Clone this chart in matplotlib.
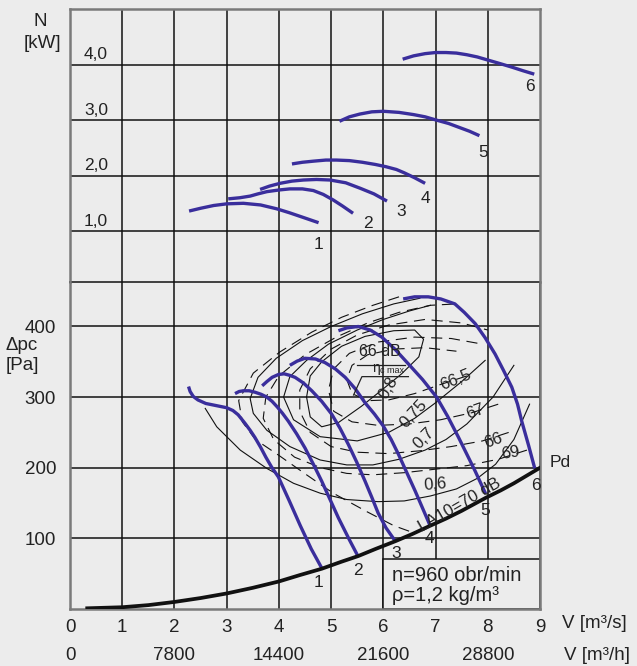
import matplotlib.pyplot as plt
from matplotlib.patches import Rectangle

plt.rcParams['font.family'] = ['Liberation Sans', 'DejaVu Sans']

BG = '#ececec'
BLUE = '#3a2e9c'
FRAME = '#7a7a7a'
TXT = '#222222'

# ---- dane ----
# krzywe mocy N [kW] dla nastaw 1..6
pow_v = [
    [2.28, 2.5, 2.75, 3.0, 3.32, 3.65, 3.96, 4.2, 4.45, 4.76],
    [3.03, 3.25, 3.45, 3.6, 3.77, 4.0, 4.21, 4.45, 4.66, 4.85, 5.04, 5.22, 5.42],
    [3.64, 3.82, 4.02, 4.25, 4.47, 4.72, 4.98, 5.28, 5.56, 5.82, 6.07],
    [4.25, 4.45, 4.66, 4.9, 5.1, 5.35, 5.6, 5.85, 6.05, 6.25, 6.4, 6.6, 6.8],
    [5.16, 5.35, 5.55, 5.78, 6.0, 6.3, 6.58, 6.8, 7.02, 7.25, 7.45, 7.65, 7.84],
    [6.37, 6.58, 6.8, 7.0, 7.2, 7.4, 7.6, 7.8, 7.98, 8.2, 8.45, 8.68, 8.89],
]
pow_n = [
    [1.36, 1.41, 1.46, 1.49, 1.50, 1.47, 1.40, 1.33, 1.25, 1.15],
    [1.58, 1.60, 1.63, 1.67, 1.71, 1.74, 1.76, 1.76, 1.73, 1.66, 1.56, 1.45, 1.32],
    [1.75, 1.81, 1.86, 1.90, 1.92, 1.93, 1.92, 1.87, 1.77, 1.67, 1.54],
    [2.21, 2.24, 2.26, 2.28, 2.28, 2.27, 2.24, 2.20, 2.16, 2.11, 2.05, 1.96, 1.86],
    [2.98, 3.06, 3.11, 3.15, 3.16, 3.14, 3.10, 3.06, 3.00, 2.94, 2.87, 2.80, 2.72],
    [4.10, 4.16, 4.20, 4.22, 4.22, 4.21, 4.18, 4.14, 4.09, 4.03, 3.96, 3.89, 3.83],
]
pow_lab_v = [4.76, 5.7, 6.34, 6.81, 7.92, 8.8]
pow_lab_n = [0.75, 1.13, 1.35, 1.58, 2.42, 3.60]

# charakterystyki spietrzenia dpc [Pa]
pr_v = [
    [2.27, 2.3, 2.36, 2.45, 2.6, 2.8, 3.0, 3.12, 3.22, 3.35, 3.45, 3.54, 3.65, 3.75, 3.86, 3.99, 4.2, 4.41, 4.62, 4.82],
    [3.16, 3.24, 3.32, 3.43, 3.54, 3.66, 3.77, 3.87, 3.97, 4.07, 4.18, 4.34, 4.5, 4.66, 4.82, 4.98, 5.14, 5.35, 5.52],
    [3.68, 3.77, 3.87, 3.99, 4.1, 4.2, 4.31, 4.47, 4.63, 4.82, 5.01, 5.17, 5.33, 5.49, 5.65, 5.78, 5.9, 6.05, 6.23],
    [4.21, 4.35, 4.5, 4.7, 4.88, 5.08, 5.27, 5.46, 5.65, 5.83, 6.0, 6.15, 6.29, 6.45, 6.61, 6.75, 6.89],
    [5.14, 5.3, 5.52, 5.75, 5.97, 6.22, 6.48, 6.75, 7.02, 7.23, 7.44, 7.6, 7.76, 7.96],
    [6.38, 6.6, 6.86, 7.1, 7.37, 7.55, 7.76, 7.95, 8.14, 8.3, 8.46, 8.57, 8.65, 8.78, 8.9],
]
pr_p = [
    [315, 308, 301, 296, 291, 288, 285, 281, 275, 263, 253, 243, 229, 215, 201, 187, 153, 118, 85, 58],
    [305, 308, 309, 309, 307, 304, 300, 294, 286, 277, 266, 248, 228, 205, 181, 155, 129, 98, 74],
    [316, 322, 328, 332, 333, 331, 328, 320, 309, 294, 276, 256, 233, 208, 181, 158, 136, 115, 96],
    [345, 351, 355, 354, 349, 340, 328, 312, 292, 276, 259, 240, 219, 193, 167, 143, 119],
    [394, 398, 400, 395, 385, 368, 347, 325, 300, 273, 243, 219, 195, 163],
    [439, 442, 442, 439, 432, 420, 404, 384, 361, 338, 314, 290, 266, 232, 199],
]
end_lab_v = [4.75, 5.52, 6.25, 6.88, 7.95, 8.92]
end_lab_p = [37, 55, 78, 100, 140, 175]

# charakterystyka sieci (Pd)
sys_v = [0.33, 1, 1.5, 2, 2.5, 3, 3.5, 4, 4.4, 4.82, 5.2, 5.52, 5.85, 6.23, 6.55, 6.9, 7.2, 7.5, 7.95, 8.25, 8.5, 8.75, 9.0]
sys_p = [1, 2.5, 5.5, 10, 15.5, 22, 30, 39, 48, 57, 67, 75, 85, 96, 106, 118, 128, 139, 157, 168, 178, 189, 200]

# izolinie sprawnosci (ciagle)
eta_v = [
    [4.53, 4.6, 4.82, 5.2, 5.65, 6.2, 6.6, 6.77, 6.68, 6.35, 5.97, 5.58, 5.14, 4.82, 4.6, 4.53],
    [7.95, 7.5, 7.0, 6.6, 6.1, 5.5, 4.79, 4.28, 4.09, 4.21, 4.53, 4.95, 5.5, 6.0, 6.5, 6.9],
    [8.5, 8.1, 7.6, 7.2, 6.8, 6.3, 5.8, 5.3, 4.79, 4.21, 3.77, 3.51, 3.45, 3.6, 3.95, 4.45, 5.0, 5.6, 6.2, 6.7],
    [8.8, 8.5, 8.15, 7.8, 7.4, 6.9, 6.4, 5.9, 5.3, 4.79, 4.28, 3.77, 3.26, 2.81, 2.59],
]
eta_p = [
    [300, 330, 350, 372, 386, 394, 395, 382, 357, 333, 310, 287, 264, 258, 272, 300],
    [352, 322, 292, 270, 250, 238, 244, 268, 300, 329, 352, 375, 395, 410, 422, 430],
    [345, 300, 262, 240, 225, 212, 204, 204, 211, 230, 253, 277, 298, 328, 355, 380, 400, 418, 432, 440],
    [290, 240, 205, 185, 170, 160, 153, 152, 155, 164, 178, 199, 225, 258, 284],
]

# izolinie halasu (przerywane)
noise_v = [
    [6.3, 5.8, 5.2, 4.63, 4.02, 3.51, 3.23, 3.3, 3.55, 3.99, 4.53, 5.04, 5.68, 6.2, 6.5],
    [8.75, 8.2, 7.6, 7.0, 6.4, 5.8, 5.3, 4.8, 4.3, 3.9, 3.7, 3.75, 4.0, 4.5, 5.1, 5.7, 6.3, 6.9, 7.4],
    [8.4, 7.9, 7.3, 6.7, 6.1, 5.5, 5.0, 4.6, 4.4, 4.4, 4.6, 5.0, 5.5, 6.1, 6.8, 7.5, 8.0],
    [8.2, 7.7, 7.1, 6.5, 5.9, 5.4, 5.05, 4.95, 5.05, 5.35, 5.9, 6.6, 7.3, 7.9],
    [7.6, 7.1, 6.6, 6.1, 5.7, 5.4, 5.3, 5.4, 5.7, 6.2, 6.8, 7.4],
]
noise_p = [
    [442, 430, 413, 392, 364, 334, 295, 265, 240, 218, 190, 164, 138, 118, 110],
    [225, 212, 203, 198, 193, 190, 192, 200, 215, 240, 270, 300, 330, 360, 385, 405, 420, 430, 432],
    [250, 238, 230, 224, 220, 222, 230, 250, 280, 310, 340, 368, 388, 402, 410, 405, 395],
    [290, 278, 268, 262, 260, 265, 280, 310, 340, 362, 378, 385, 383, 375],
    [330, 318, 305, 296, 295, 305, 325, 345, 360, 368, 370, 365],
]

# opisy izolinii: tekst, V, dpc, kat
iso_labels = [
    ('0,8', 6.1, 313, 60), ('0,75', 6.58, 277, 47), ('0,7', 6.77, 242, 45),
    ('0,6', 6.99, 176, 5), ('66,5', 7.38, 324, 22), ('67', 7.76, 279, 20),
    ('66', 8.11, 239, 20), ('69', 8.43, 221, 10), ('LA10=70 dB', 7.47, 147, 30),
]

v_ticks = [0, 1, 2, 3, 4, 5, 6, 7, 8, 9]
vh_ticks = [0, 2, 4, 6, 8]
vh_labels = ['0', '7800', '14400', '21600', '28800']
p_ticks = [100, 200, 300, 400]
n_ticks = [1, 2, 3, 4]
n_labels = ['1,0', '2,0', '3,0', '4,0']

FS = 13.5

fig = plt.figure(figsize=(6.37, 6.66), dpi=100, facecolor=BG)
axp = fig.add_axes([70 / 637, 57 / 666, 470 / 637, 327 / 666], facecolor=BG)
axn = fig.add_axes([70 / 637, 384 / 666, 470 / 637, 272.7 / 666], facecolor='none')

# --- dolny wykres (spietrzenie) ---
axp.set_xlim(0, 9)
axp.set_ylim(0, 463)
axp.set_xticks(v_ticks)
axp.set_yticks(p_ticks)
axp.tick_params(length=0, labelsize=FS, colors=TXT)
axp.tick_params(axis='x', pad=7)
axp.tick_params(axis='y', pad=10)
axp.set_axisbelow(True)
axp.grid(True, color='#111111', lw=1.1)
for s in ['left', 'right', 'bottom']:
    axp.spines[s].set_color(FRAME)
    axp.spines[s].set_linewidth(1.8)
axp.spines['top'].set_color('#111111')
axp.spines['top'].set_linewidth(1.1)

axp.add_patch(Rectangle((6, 0), 3, 71, facecolor=BG, edgecolor='#111111', lw=1.1, zorder=1.5))
axp.text(6.17, 48, 'n=960 obr/min', fontsize=14.5, va='center', color=TXT, zorder=6)
axp.text(6.17, 19, 'ρ=1,2 kg/m³', fontsize=14.5, va='center', color=TXT, zorder=6)

for ev, ep in zip(eta_v, eta_p):
    axp.plot(ev, ep, color='#111111', lw=0.8, zorder=3)
for nv, np_ in zip(noise_v, noise_p):
    axp.plot(nv, np_, color='#111111', lw=0.8, ls=(0, (10, 6)), zorder=3)

for txt, x, y, rot in iso_labels:
    axp.text(x, y, txt, fontsize=12, rotation=rot, ha='center', va='center',
             rotation_mode='anchor', color=TXT, zorder=5)

# 66 dB / eta c max
axp.text(5.94, 354, '66 dB', fontsize=11.5, ha='center', va='bottom', color=TXT, zorder=5)
axp.plot([5.49, 6.42], [346, 346], color=TXT, lw=0.9, zorder=5)
axp.text(5.93, 331, 'η', fontsize=10, ha='right', va='bottom', color=TXT, zorder=5)
axp.text(5.94, 331, 'c max', fontsize=6.5, ha='left', va='bottom', color=TXT, zorder=5)
axp.plot([5.43, 5.59, 6.48], [303, 329, 329], color=TXT, lw=0.9, zorder=5)

for pv, pp in zip(pr_v, pr_p):
    axp.plot(pv, pp, color=BLUE, lw=2.4, zorder=4, solid_capstyle='butt', solid_joinstyle='round')

axp.plot(sys_v, sys_p, color='#111111', lw=2.7, zorder=4.5)
for i, (x, y) in enumerate(zip(end_lab_v, end_lab_p)):
    axp.text(x, y, str(i + 1), fontsize=12.5, ha='center', va='center', color=TXT, zorder=5)
axp.text(9.18, 208, 'Pd', fontsize=12.5, ha='left', va='center', color=TXT, clip_on=False)

for v, lab in zip(vh_ticks, vh_labels):
    axp.annotate(lab, xy=(v, 0), xytext=(0, -33.6), textcoords='offset points',
                 ha='center', va='center', fontsize=FS, color=TXT, annotation_clip=False)
axp.annotate('V [m³/s]', xy=(9, 0), xytext=(39.5, -10.8), textcoords='offset points',
             ha='center', va='center', fontsize=FS, color=TXT, annotation_clip=False)
axp.annotate('V [m³/h]', xy=(9, 0), xytext=(41, -33.6), textcoords='offset points',
             ha='center', va='center', fontsize=FS, color=TXT, annotation_clip=False)

fig.text(6 / 637, 1 - 345 / 666, 'Δpc', fontsize=FS, ha='left', va='center', color=TXT)
fig.text(6 / 637, 1 - 365 / 666, '[Pa]', fontsize=FS, ha='left', va='center', color=TXT)

# --- gorny wykres (moc) ---
axn.set_xlim(0, 9)
axn.set_ylim(0.08, 5.0)
axn.set_xticks(v_ticks[1:-1])
axn.set_yticks(n_ticks)
axn.tick_params(length=0, labelbottom=False, labelleft=False)
axn.set_axisbelow(True)
axn.grid(True, color='#111111', lw=1.1)
for s in ['left', 'right', 'top']:
    axn.spines[s].set_color(FRAME)
    axn.spines[s].set_linewidth(1.8)
axn.spines['bottom'].set_visible(False)

for t, lab in zip(n_ticks, n_labels):
    axn.text(0.5, t + 0.18, lab, fontsize=12.5, ha='center', va='center', color=TXT)

for nv, nn in zip(pow_v, pow_n):
    axn.plot(nv, nn, color=BLUE, lw=2.4, solid_capstyle='butt', solid_joinstyle='round')
for i, (x, y) in enumerate(zip(pow_lab_v, pow_lab_n)):
    axn.text(x, y, str(i + 1), fontsize=12.5, ha='center', va='center', color=TXT)

fig.text(40 / 637, 1 - 22 / 666, 'N', fontsize=FS, ha='center', va='center', color=TXT)
fig.text(42 / 637, 1 - 44 / 666, '[kW]', fontsize=FS, ha='center', va='center', color=TXT)

fig.savefig('out.png', dpi=100, facecolor=BG)
